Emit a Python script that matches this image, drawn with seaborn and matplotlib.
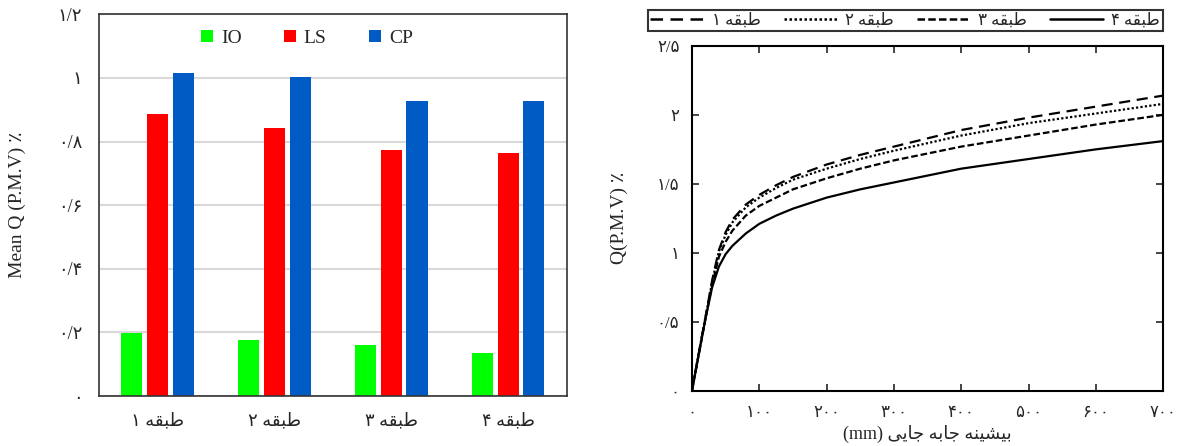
import numpy as np
import pandas as pd
import matplotlib
matplotlib.use("Agg")
import matplotlib.pyplot as plt
import seaborn as sns
from matplotlib.lines import Line2D

# ---------------- data ----------------
floors = ["طبقه ۱", "طبقه ۲", "طبقه ۳", "طبقه ۴"]
levels = ["IO", "LS", "CP"]
io_vals = [0.198, 0.176, 0.161, 0.134]
ls_vals = [0.887, 0.842, 0.774, 0.764]
cp_vals = [1.015, 1.004, 0.928, 0.928]
bar_yticks = [0, 0.2, 0.4, 0.6, 0.8, 1.0, 1.2]
bar_ytick_labels = ["۰", "۰/۲", "۰/۴", "۰/۶", "۰/۸", "۱", "۱/۲"]
bar_ylabel = "Mean Q (P.M.V) ٪"

disp_mm = [0, 10, 20, 30, 40, 50, 60, 80, 100, 125, 150, 200, 250, 300, 400, 500, 600, 700]
q_floor1 = [0, 0.27, 0.53, 0.80, 1.02, 1.15, 1.24, 1.35, 1.42, 1.49, 1.55, 1.64, 1.71, 1.77, 1.89, 1.98, 2.06, 2.14]
q_floor2 = [0, 0.27, 0.53, 0.79, 1.01, 1.13, 1.22, 1.33, 1.40, 1.47, 1.53, 1.61, 1.68, 1.74, 1.85, 1.94, 2.01, 2.08]
q_floor3 = [0, 0.26, 0.52, 0.77, 0.97, 1.08, 1.16, 1.27, 1.34, 1.40, 1.46, 1.54, 1.61, 1.67, 1.77, 1.85, 1.93, 2.00]
q_floor4 = [0, 0.26, 0.52, 0.75, 0.90, 0.99, 1.05, 1.14, 1.21, 1.27, 1.32, 1.40, 1.46, 1.51, 1.61, 1.68, 1.75, 1.81]
line_xticks = [0, 100, 200, 300, 400, 500, 600, 700]
line_xtick_labels = ["۰", "۱۰۰", "۲۰۰", "۳۰۰", "۴۰۰", "۵۰۰", "۶۰۰", "۷۰۰"]
line_yticks = [0, 0.5, 1.0, 1.5, 2.0, 2.5]
line_ytick_labels = ["۰", "۰/۵", "۱", "۱/۵", "۲", "۲/۵"]
line_ylabel = "Q(P.M.V) ٪"
line_xlabel = "بیشینه جابه جایی (mm)"

# ---------------- simple Persian shaping for display ----------------
FORMS = {
    'ا': ('\uFE8D', '\uFE8E', None, None),
    'ب': ('\uFE8F', '\uFE90', '\uFE91', '\uFE92'),
    'ج': ('\uFE9D', '\uFE9E', '\uFE9F', '\uFEA0'),
    'ش': ('\uFEB5', '\uFEB6', '\uFEB7', '\uFEB8'),
    'ط': ('\uFEC1', '\uFEC2', '\uFEC3', '\uFEC4'),
    'ق': ('\uFED5', '\uFED6', '\uFED7', '\uFED8'),
    'ن': ('\uFEE5', '\uFEE6', '\uFEE7', '\uFEE8'),
    'ه': ('\uFEE9', '\uFEEA', '\uFEEB', '\uFEEC'),
    'ی': ('\uFBFC', '\uFBFD', '\uFBFE', '\uFBFF'),
}


def shape_word(w):
    out = []
    for i, c in enumerate(w):
        if c not in FORMS:
            out.append(c)
            continue
        iso, fin, ini, med = FORMS[c]
        prev = w[i - 1] if i > 0 else None
        nxt = w[i + 1] if i + 1 < len(w) else None
        jp = prev in FORMS and FORMS[prev][2] is not None
        jn = (nxt in FORMS) and ini is not None
        if jp and jn:
            out.append(med)
        elif jp:
            out.append(fin)
        elif jn:
            out.append(ini)
        else:
            out.append(iso)
    return "".join(out)


def rtl(s):
    toks = s.split(" ")
    vis = []
    for t in toks:
        if any(c in FORMS for c in t):
            vis.append(shape_word(t)[::-1])
        else:
            vis.append(t)
    return " ".join(vis[::-1])


# ---------------- style ----------------
sns.set_style("white")
plt.rcParams["font.family"] = ["Liberation Serif", "DejaVu Sans"]
plt.rcParams["axes.unicode_minus"] = False

fig = plt.figure(figsize=(11.78, 4.46), dpi=100)
ax1 = fig.add_axes([0.084, 0.112, 0.397, 0.856])
ax2 = fig.add_axes([0.5874, 0.124, 0.400, 0.773])

# ---------------- bar chart ----------------
floor_disp = [rtl(f) for f in floors]
df_bar = pd.DataFrame({
    "floor": floor_disp * 3,
    "level": [l for l in levels for _ in floors],
    "value": io_vals + ls_vals + cp_vals,
})
colors = {"IO": "#00FF00", "LS": "#FF0000", "CP": "#005BC4"}
sns.barplot(data=df_bar, x="floor", y="value", hue="level", hue_order=levels,
            order=floor_disp, palette=colors, width=0.66, gap=0.18,
            saturation=1, errorbar=None, linewidth=0, ax=ax1)
ax1.set_ylim(0, 1.2)
ax1.set_xlim(-0.5, 3.5)
ax1.set_yticks(bar_yticks)
ax1.set_yticklabels(bar_ytick_labels, fontsize=13)
ax1.tick_params(axis="both", length=0)
ax1.tick_params(axis="y", pad=12)
ax1.tick_params(axis="x", pad=12, labelsize=13)
ax1.set_xlabel("")
ax1.set_ylabel(bar_ylabel, fontsize=14)
ax1.yaxis.set_label_coords(-0.155, 0.5)
ax1.yaxis.grid(True, color="#d9d9d9", lw=1.5)
ax1.set_axisbelow(True)
for sp in ax1.spines.values():
    sp.set_visible(True)
    sp.set_color("#333333")
    sp.set_linewidth(1.2)
leg1 = ax1.legend(loc="center", bbox_to_anchor=(0.445, 0.937), ncol=3,
                  frameon=False, fontsize=14, handlelength=0.6, handleheight=0.6,
                  handletextpad=0.4, columnspacing=2.2)

# ---------------- line chart ----------------
df_line = pd.DataFrame({
    "disp": disp_mm * 4,
    "q": q_floor1 + q_floor2 + q_floor3 + q_floor4,
    "floor": [f for f in floors for _ in disp_mm],
})
dash_styles = [(5, 3), (1, 1), (3, 1.3), ""]
sns.lineplot(data=df_line, x="disp", y="q", hue="floor", style="floor",
             hue_order=floors, style_order=floors,
             palette=["black"] * 4, dashes=dash_styles, lw=1.6,
             legend=False, ax=ax2)
ax2.set_xlim(0, 700)
ax2.set_ylim(0, 2.5)
ax2.set_xticks(line_xticks)
ax2.set_xticklabels(line_xtick_labels, fontsize=12)
ax2.set_yticks(line_yticks)
ax2.set_yticklabels(line_ytick_labels, fontsize=12)
ax2.tick_params(axis="both", direction="in", length=5, width=1.2,
                top=True, right=True, bottom=True, left=True)
ax2.tick_params(axis="x", pad=10)
ax2.tick_params(axis="y", pad=9)
ax2.set_ylabel(line_ylabel, fontsize=14)
ax2.yaxis.set_label_coords(-0.135, 0.5)
ax2.set_xlabel(rtl(line_xlabel), fontsize=13)
ax2.xaxis.set_label_coords(0.5, -0.10)
for sp in ax2.spines.values():
    sp.set_visible(True)
    sp.set_color("black")
    sp.set_linewidth(1.5)

handles = []
for ds in dash_styles:
    if ds == "":
        handles.append(Line2D([], [], color="black", lw=1.8, linestyle="-"))
    else:
        handles.append(Line2D([], [], color="black", lw=1.8, linestyle=(0, ds)))
leg2 = fig.legend(handles, floor_disp, loc="lower left",
                  bbox_to_anchor=(0.550, 0.9305, 0.437, 0.0535), mode="expand",
                  ncol=4, frameon=True, fancybox=False, edgecolor="black",
                  fontsize=12, handlelength=3.2, handletextpad=0.5,
                  borderaxespad=0, borderpad=0.15)
leg2.get_frame().set_linewidth(1.5)

fig.savefig("out.png", dpi=100)
